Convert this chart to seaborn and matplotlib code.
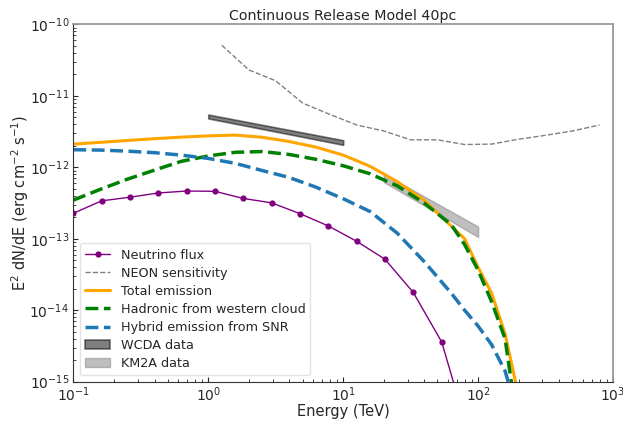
import numpy as np
import pandas as pd
import matplotlib
matplotlib.use("Agg")
import matplotlib.pyplot as plt
import seaborn as sns

# ---------------- data ----------------
nu_energy = [0.1, 0.162, 0.263, 0.427, 0.692, 1.12, 1.82, 2.95, 4.79, 7.76,
             12.6, 20.4, 33.1, 53.7, 87.1]
nu_flux = [2.27e-13, 3.39e-13, 3.81e-13, 4.37e-13, 4.65e-13, 4.61e-13, 3.66e-13,
           3.18e-13, 2.24e-13, 1.51e-13, 9.2e-14, 5.17e-14, 1.77e-14, 3.6e-15, 1.6e-16]

neon_energy = [1.26, 2.0, 3.16, 5.01, 7.94, 12.6, 20.0, 31.6, 50.1, 79.4,
               126, 200, 316, 501, 794]
neon_sens = [5.1e-11, 2.3e-11, 1.62e-11, 7.9e-12, 5.5e-12, 3.9e-12, 3.22e-12,
             2.42e-12, 2.42e-12, 2.08e-12, 2.11e-12, 2.47e-12, 2.8e-12, 3.22e-12, 3.9e-12]

model_energy = [0.1, 0.158, 0.251, 0.398, 0.631, 1.0, 1.585, 2.512, 3.981, 6.31,
                10.0, 15.85, 25.12, 39.81, 63.1, 79.43, 100.0, 125.9, 158.5, 199.5]
total_emission = [2.11e-12, 2.23e-12, 2.37e-12, 2.51e-12, 2.64e-12, 2.75e-12, 2.82e-12,
                  2.63e-12, 2.29e-12, 1.91e-12, 1.48e-12, 1.03e-12, 6.3e-13, 3.45e-13,
                  1.51e-13, 1.0e-13, 3.98e-14, 1.74e-14, 4.68e-15, 6.3e-16]
hadronic_cloud = [3.47e-13, 4.9e-13, 6.8e-13, 9.1e-13, 1.21e-12, 1.44e-12, 1.62e-12,
                  1.66e-12, 1.51e-12, 1.29e-12, 1.05e-12, 8.1e-13, 5.5e-13, 3.16e-13,
                  1.58e-13, 8.3e-14, 3.63e-14, 1.32e-14, 3.98e-15, 2.0e-16]
hybrid_snr = [1.76e-12, 1.74e-12, 1.68e-12, 1.60e-12, 1.48e-12, 1.33e-12, 1.135e-12,
              9.0e-13, 7.2e-13, 5.25e-13, 3.63e-13, 2.4e-13, 1.2e-13, 4.8e-14,
              1.74e-14, 1.0e-14, 6.0e-15, 3.3e-15, 1.41e-15, 3.2e-16]

wcda_energy = [1.0, 10.0]
wcda_low = [4.82e-12, 2.06e-12]
wcda_high = [5.47e-12, 2.39e-12]

km2a_energy = [20.0, 100.0]
km2a_low = [6.2e-13, 1.06e-13]
km2a_high = [8.1e-13, 1.48e-13]

x_ticks = [0.1, 1, 10, 100, 1000]
y_ticks = [1e-15, 1e-14, 1e-13, 1e-12, 1e-11, 1e-10]

# ---------------- plot ----------------
sns.set_style("ticks")
plt.rcParams["font.family"] = ["DejaVu Sans"]

fig = plt.figure(figsize=(6.23, 4.22), dpi=100)
ax = fig.add_axes([0.1177, 0.0955, 0.8663, 0.8469])

nu_df = pd.DataFrame({"E": nu_energy, "F": nu_flux})
neon_df = pd.DataFrame({"E": neon_energy, "F": neon_sens})
mod_df = pd.DataFrame({"E": model_energy, "tot": total_emission,
                       "had": hadronic_cloud, "hyb": hybrid_snr})

sns.lineplot(data=nu_df, x="E", y="F", ax=ax, color="purple", lw=1,
             marker="o", markersize=4.5, markeredgewidth=0, label="Neutrino flux")
sns.lineplot(data=neon_df, x="E", y="F", ax=ax, color="gray", lw=1,
             linestyle="--", label="NEON sensitivity")
sns.lineplot(data=mod_df, x="E", y="tot", ax=ax, color="orange", lw=2.2,
             label="Total emission")
sns.lineplot(data=mod_df, x="E", y="had", ax=ax, color="green", lw=2.5,
             linestyle="--", label="Hadronic from western cloud")
sns.lineplot(data=mod_df, x="E", y="hyb", ax=ax, color="#1f77b4", lw=2.5,
             linestyle="--", label="Hybrid emission from SNR")
ax.fill_between(wcda_energy, wcda_low, wcda_high, color="black", alpha=0.5,
                lw=1.2, label="WCDA data", zorder=3)
ax.fill_between(km2a_energy, km2a_low, km2a_high, color="gray", alpha=0.5,
                lw=1.0, label="KM2A data", zorder=1.5)

ax.set_xscale("log")
ax.set_yscale("log")
ax.set_xlim(0.1, 1000)
ax.set_ylim(1e-15, 1e-10)
ax.set_xticks(x_ticks)
ax.set_yticks(y_ticks)
ax.set_xlabel("Energy (TeV)", fontsize=10.5, labelpad=0)
ax.set_ylabel(r"E$^2$ dN/dE (erg cm$^{-2}$ s$^{-1}$)", fontsize=10.5, labelpad=-1)
ax.set_title("Continuous Release Model 40pc", fontsize=10.3, pad=3)
ax.tick_params(which="both", direction="in", labelsize=10, pad=3)
ax.tick_params(which="major", length=3.5)
ax.tick_params(which="minor", length=2)
for side in ["left", "bottom"]:
    ax.spines[side].set_color("#333333")
for side in ["top", "right"]:
    ax.spines[side].set_color("#999999")
    ax.spines[side].set_linewidth(1.3)

h, l = ax.get_legend_handles_labels()
leg = ax.legend(h, l, loc="lower left", fontsize=9.2, frameon=True,
                labelspacing=0.4)
leg.get_frame().set_edgecolor("#dddddd")

fig.savefig("out.png", dpi=100)
